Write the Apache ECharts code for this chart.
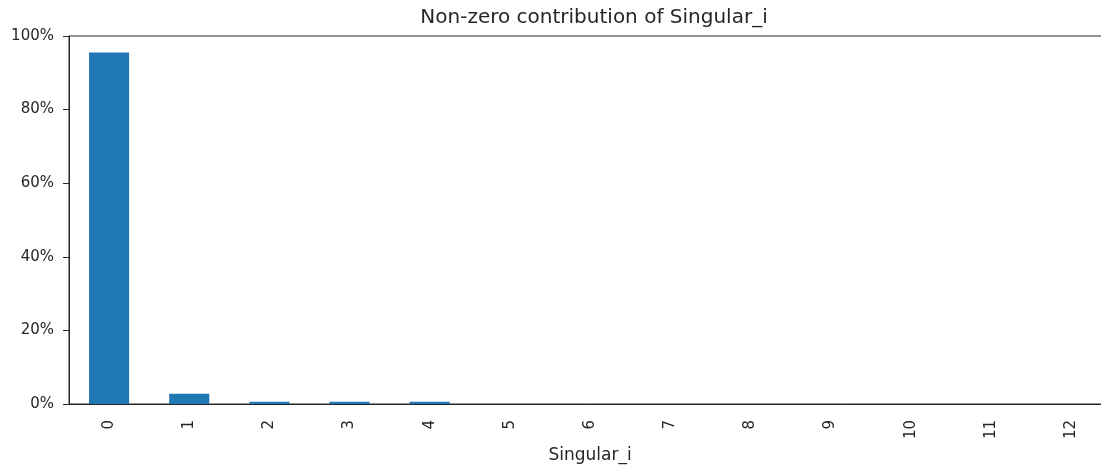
<!DOCTYPE html>
<html>
<head>
<meta charset="utf-8">
<script src="https://cdn.jsdelivr.net/npm/echarts@6/dist/echarts.min.js"></script>
<style>
html,body{margin:0;padding:0;background:#fff;}
#chart{width:1101px;height:467px;}
</style>
</head>
<body>
<div id="chart"></div>
<script>
const categories = ['0','1','2','3','4','5','6','7','8','9','10','11','12'];
const contribution = [95.5, 2.8, 0.6, 0.6, 0.6, 0.02, 0.02, 0.01, 0.01, 0.01, 0.01, 0.01, 0.01];
const yTicks = [0, 20, 40, 60, 80, 100];

const chart = echarts.init(document.getElementById('chart'));
const font = 'DejaVu Sans';
const ink = '#262626';
chart.setOption({
  animation: false,
  title: {
    text: 'Non-zero contribution of Singular_i',
    left: 589, top: 3, textAlign: 'center',
    textStyle: {fontFamily: font, fontSize: 20, fontWeight: 'normal', color: ink}
  },
  grid: {
    left: 69, right: -10, top: 36, bottom: 63,
    outerBoundsMode: 'none',
    containLabel: false,
    show: true, borderColor: ink, borderWidth: 1, backgroundColor: 'transparent'
  },
  xAxis: {
    type: 'category',
    data: categories,
    name: 'Singular_i',
    nameLocation: 'middle',
    nameGap: 43,
    nameTextStyle: {fontFamily: font, fontSize: 17, color: ink},
    axisLine: {lineStyle: {color: ink, width: 1}},
    axisTick: {alignWithLabel: true, length: 6, lineStyle: {color: ink}},
    axisLabel: {rotate: 90, margin: 16, fontFamily: font, fontSize: 15, color: ink},
    splitLine: {show: false}
  },
  yAxis: {
    type: 'value',
    min: yTicks[0], max: yTicks[yTicks.length - 1], interval: 20,
    axisLine: {show: true, lineStyle: {color: ink, width: 1}},
    axisTick: {show: true, length: 6, lineStyle: {color: ink}},
    axisLabel: {formatter: '{value}%', margin: 15, fontFamily: font, fontSize: 15, color: ink},
    splitLine: {show: false}
  },
  series: [{
    type: 'bar',
    data: contribution,
    barWidth: '50%',
    itemStyle: {color: '#1f77b4'}
  }]
});
</script>
</body>
</html>
